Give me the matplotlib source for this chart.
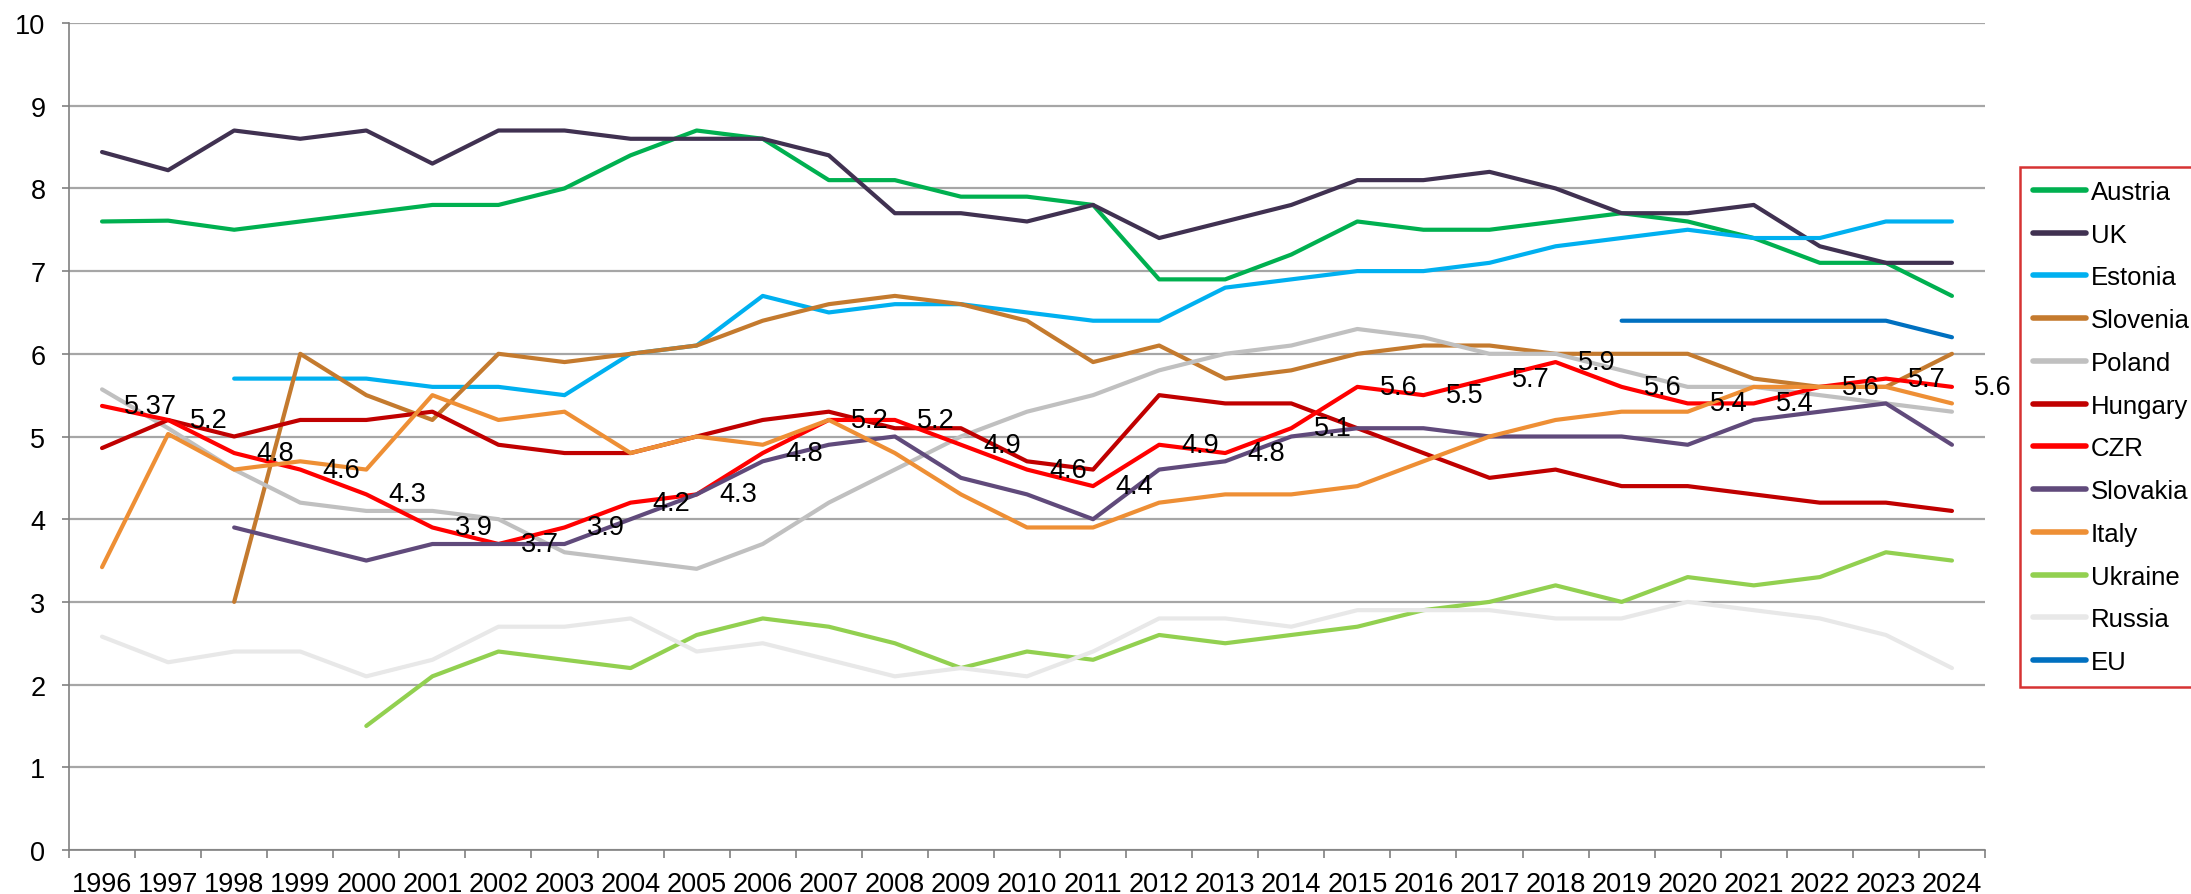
import matplotlib

matplotlib.use("Agg")
import matplotlib.pyplot as plt
import numpy as np

nan = np.nan

years = list(range(1996, 2025))

austria = [7.6, 7.61, 7.5, 7.6, 7.7, 7.8, 7.8, 8.0, 8.4, 8.7, 8.6, 8.1, 8.1, 7.9, 7.9,
           7.8, 6.9, 6.9, 7.2, 7.6, 7.5, 7.5, 7.6, 7.7, 7.6, 7.4, 7.1, 7.1, 6.7]
uk = [8.44, 8.22, 8.7, 8.6, 8.7, 8.3, 8.7, 8.7, 8.6, 8.6, 8.6, 8.4, 7.7, 7.7, 7.6,
      7.8, 7.4, 7.6, 7.8, 8.1, 8.1, 8.2, 8.0, 7.7, 7.7, 7.8, 7.3, 7.1, 7.1]
estonia = [nan, nan, 5.7, 5.7, 5.7, 5.6, 5.6, 5.5, 6.0, 6.1, 6.7, 6.5, 6.6, 6.6, 6.5,
           6.4, 6.4, 6.8, 6.9, 7.0, 7.0, 7.1, 7.3, 7.4, 7.5, 7.4, 7.4, 7.6, 7.6]
slovenia = [nan, nan, 3.0, 6.0, 5.5, 5.2, 6.0, 5.9, 6.0, 6.1, 6.4, 6.6, 6.7, 6.6, 6.4,
            5.9, 6.1, 5.7, 5.8, 6.0, 6.1, 6.1, 6.0, 6.0, 6.0, 5.7, 5.6, 5.6, 6.0]
poland = [5.57, 5.1, 4.6, 4.2, 4.1, 4.1, 4.0, 3.6, 3.5, 3.4, 3.7, 4.2, 4.6, 5.0, 5.3,
          5.5, 5.8, 6.0, 6.1, 6.3, 6.2, 6.0, 6.0, 5.8, 5.6, 5.6, 5.5, 5.4, 5.3]
hungary = [4.86, 5.2, 5.0, 5.2, 5.2, 5.3, 4.9, 4.8, 4.8, 5.0, 5.2, 5.3, 5.1, 5.1, 4.7,
           4.6, 5.5, 5.4, 5.4, 5.1, 4.8, 4.5, 4.6, 4.4, 4.4, 4.3, 4.2, 4.2, 4.1]
czr = [5.37, 5.2, 4.8, 4.6, 4.3, 3.9, 3.7, 3.9, 4.2, 4.3, 4.8, 5.2, 5.2, 4.9, 4.6,
       4.4, 4.9, 4.8, 5.1, 5.6, 5.5, 5.7, 5.9, 5.6, 5.4, 5.4, 5.6, 5.7, 5.6]
slovakia = [nan, nan, 3.9, 3.7, 3.5, 3.7, 3.7, 3.7, 4.0, 4.3, 4.7, 4.9, 5.0, 4.5, 4.3,
            4.0, 4.6, 4.7, 5.0, 5.1, 5.1, 5.0, 5.0, 5.0, 4.9, 5.2, 5.3, 5.4, 4.9]
italy = [3.42, 5.03, 4.6, 4.7, 4.6, 5.5, 5.2, 5.3, 4.8, 5.0, 4.9, 5.2, 4.8, 4.3, 3.9,
         3.9, 4.2, 4.3, 4.3, 4.4, 4.7, 5.0, 5.2, 5.3, 5.3, 5.6, 5.6, 5.6, 5.4]
ukraine = [nan, nan, nan, nan, 1.5, 2.1, 2.4, 2.3, 2.2, 2.6, 2.8, 2.7, 2.5, 2.2, 2.4,
           2.3, 2.6, 2.5, 2.6, 2.7, 2.9, 3.0, 3.2, 3.0, 3.3, 3.2, 3.3, 3.6, 3.5]
russia = [2.58, 2.27, 2.4, 2.4, 2.1, 2.3, 2.7, 2.7, 2.8, 2.4, 2.5, 2.3, 2.1, 2.2, 2.1,
          2.4, 2.8, 2.8, 2.7, 2.9, 2.9, 2.9, 2.8, 2.8, 3.0, 2.9, 2.8, 2.6, 2.2]
eu = [nan] * 23 + [6.4, 6.4, 6.4, 6.4, 6.4, 6.2]

czr_labels = ["5.37", "5.2", "4.8", "4.6", "4.3", "3.9", "3.7", "3.9", "4.2", "4.3",
              "4.8", "5.2", "5.2", "4.9", "4.6", "4.4", "4.9", "4.8", "5.1", "5.6",
              "5.5", "5.7", "5.9", "5.6", "5.4", "5.4", "5.6", "5.7", "5.6"]

series = [
    ("Austria", austria, "#00b050"),
    ("UK", uk, "#403151"),
    ("Estonia", estonia, "#00b0f0"),
    ("Slovenia", slovenia, "#c47a2e"),
    ("Poland", poland, "#c0c0c0"),
    ("Hungary", hungary, "#c00000"),
    ("CZR", czr, "#ff0000"),
    ("Slovakia", slovakia, "#604a7b"),
    ("Italy", italy, "#ee8f35"),
    ("Ukraine", ukraine, "#92d050"),
    ("Russia", russia, "#e8e8e8"),
    ("EU", eu, "#0070c0"),
]

plt.rcParams["font.family"] = ["Liberation Sans", "DejaVu Sans"]
FS = 19.5

W, H = 2191, 895
fig = plt.figure(figsize=(W / 100, H / 100), dpi=100)
ax = fig.add_axes([69 / W, 1 - 851 / H, (1985 - 69) / W, (851 - 24) / H])

x = np.arange(len(years))
for name, values, color in series:
    ax.plot(x, values, color=color, linewidth=3.0, label=name, solid_capstyle="round")

# etiquetas de dados apenas para CZR
for xi, yi, txt in zip(x, czr, czr_labels):
    ax.annotate(txt, (xi, yi), xytext=(16, 0), textcoords="offset points",
                ha="left", va="center", fontsize=FS, zorder=10)

ax.set_xlim(-0.5, len(years) - 0.5)
ax.set_ylim(0, 10)
ax.set_yticks(range(0, 11))
ax.set_yticklabels([str(v) for v in range(0, 11)], fontsize=FS)
ax.set_xticks(x)
ax.set_xticklabels([str(y) for y in years], fontsize=FS)
ax.set_xticks(np.arange(-0.5, len(years)), minor=True)
ax.tick_params(axis="x", which="major", length=0, pad=15)
ax.tick_params(axis="x", which="minor", length=6, color="#808080", width=1.2)
ax.tick_params(axis="y", length=5, color="#808080", width=1.2, pad=12)

ax.grid(axis="y", color="#a6a6a6", linewidth=1.6)
ax.set_axisbelow(True)
for side in ["top", "right"]:
    ax.spines[side].set_visible(False)
for side in ["left", "bottom"]:
    ax.spines[side].set_color("#808080")
    ax.spines[side].set_linewidth(1.2)

leg = fig.legend(loc="upper left", bbox_to_anchor=(2020 / W, 1 - 168 / H, 220 / W, 0),
                 mode="expand", borderaxespad=0, fontsize=18.5, frameon=True,
                 fancybox=False, handlelength=2.05, handletextpad=0.2,
                 labelspacing=0.73, borderpad=0.5)
leg.get_frame().set_edgecolor("#cc0000")
leg.get_frame().set_linewidth(1.8)
for line in leg.get_lines():
    line.set_linewidth(4)

fig.savefig("out.png", dpi=100)
